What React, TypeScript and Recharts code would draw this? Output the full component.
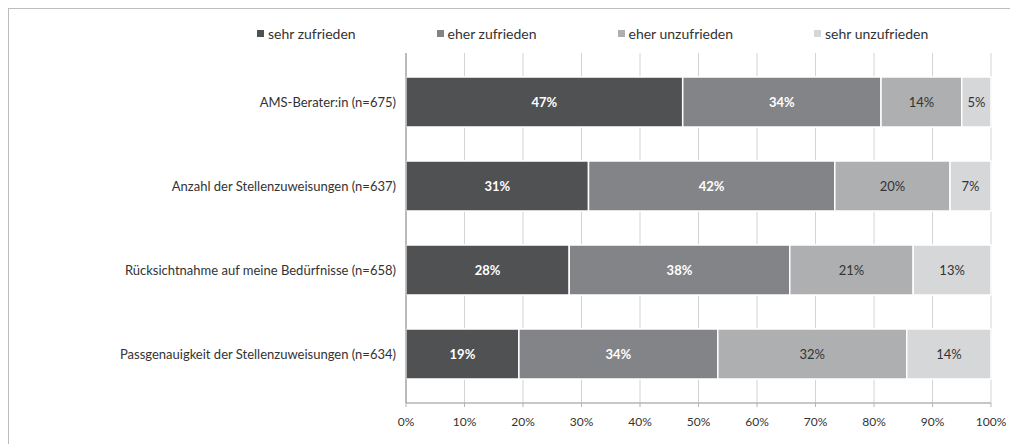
import React from "react"
import {
  BarChart,
  Bar,
  XAxis,
  YAxis,
  CartesianGrid,
  LabelList,
} from "recharts"

const kategorien = [
  "AMS-Berater:in (n=675)",
  "Anzahl der Stellenzuweisungen (n=637)",
  "Rücksichtnahme auf meine Bedürfnisse (n=658)",
  "Passgenauigkeit der Stellenzuweisungen  (n=634)",
]

const sehrZufrieden = [47.3, 31.2, 27.9, 19.3]
const eherZufrieden = [33.9, 42.1, 37.7, 34.0]
const eherUnzufrieden = [13.8, 19.7, 21.1, 32.3]
const sehrUnzufrieden = [5.0, 7.0, 13.3, 14.4]

const xTicks = [0, 10, 20, 30, 40, 50, 60, 70, 80, 90, 100]

const serien = [
  { key: "sz", name: "sehr zufrieden", werte: sehrZufrieden, farbe: "#505153", hell: false },
  { key: "ez", name: "eher zufrieden", werte: eherZufrieden, farbe: "#838487", hell: false },
  { key: "eu", name: "eher unzufrieden", werte: eherUnzufrieden, farbe: "#aeafb1", hell: true },
  { key: "su", name: "sehr unzufrieden", werte: sehrUnzufrieden, farbe: "#d6d7d9", hell: true },
]

const daten = kategorien.map((kat, i) => {
  const row: Record<string, string | number> = { kat }
  serien.forEach((s) => {
    row[s.key] = s.werte[i]
  })
  return row
})

const FONT = "Lato, 'Liberation Sans', sans-serif"

function Legende() {
  return (
    <div
      style={{
        position: "absolute",
        top: 16,
        left: 248,
        display: "flex",
        fontFamily: FONT,
        fontSize: 14,
        color: "#333",
      }}
    >
      {serien.map((s) => (
        <div key={s.key} style={{ display: "flex", alignItems: "center", marginRight: 81 }}>
          <span
            style={{
              display: "inline-block",
              width: 7,
              height: 7,
              background: s.farbe,
              marginRight: 4,
            }}
          />
          {s.name}
        </div>
      ))}
    </div>
  )
}

export default function App() {
  return (
    <div
      style={{
        position: "relative",
        width: 1009,
        height: 435,
        borderTop: "1px solid #bdbdbd",
        borderLeft: "1px solid #bdbdbd",
        background: "#fff",
      }}
    >
      <Legende />
      <BarChart
        width={1009}
        height={435}
        data={daten}
        layout="vertical"
        margin={{ top: 44, right: 27, left: 0, bottom: 0 }}
        barSize={50}
      >
        <CartesianGrid horizontal={false} stroke="#d4d4d4" />
        <XAxis
          type="number"
          domain={[0, 100]}
          ticks={xTicks}
          tickFormatter={(v) => `${v}%`}
          tick={{ fontSize: 12, fill: "#333", fontFamily: FONT }}
          axisLine={{ stroke: "#b5b5b5", strokeWidth: 1.5 }}
          tickLine={{ stroke: "#b5b5b5" }}
          tickSize={4}
          tickMargin={10}
          height={41}
          interval={0}
        />
        <YAxis
          type="category"
          dataKey="kat"
          width={397}
          tick={{ fontSize: 13, fill: "#333", fontFamily: FONT, style: { whiteSpace: "pre" } }}
          axisLine={{ stroke: "#8a8a8a" }}
          tickLine={false}
          tickSize={0}
          tickMargin={10}
          padding={{ top: 7, bottom: 7 }}
          interval={0}
        />
        {serien.map((s) => (
          <Bar
            key={s.key}
            dataKey={s.key}
            name={s.name}
            stackId="a"
            fill={s.farbe}
            stroke="#fff"
            strokeWidth={1.5}
            isAnimationActive={false}
          >
            <LabelList
              dataKey={s.key}
              position="center"
              formatter={(v: number) => `${Math.round(v)}%`}
              style={{
                fontSize: 13,
                fontFamily: FONT,
                fontWeight: s.hell ? 400 : 700,
                fill: s.hell ? "#333" : "#fff",
              }}
            />
          </Bar>
        ))}
      </BarChart>
    </div>
  )
}
